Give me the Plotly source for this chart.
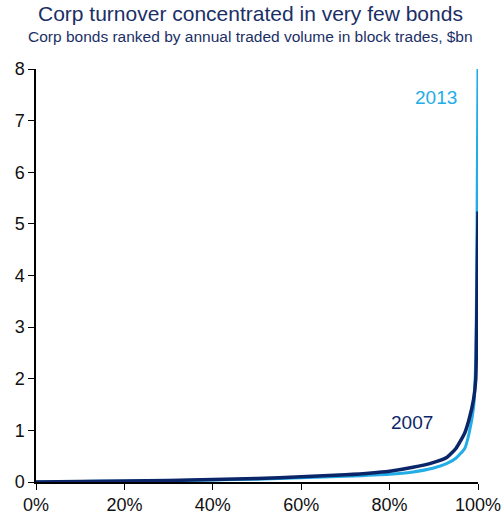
import plotly.graph_objects as go

pct = [0, 10, 20, 30, 40, 50, 60, 70, 80, 85, 90, 93, 95, 97, 98, 99, 99.5, 99.7, 99.85, 100]
vol_2007 = [0.0, 0.01, 0.02, 0.03, 0.05, 0.07, 0.10, 0.14, 0.21, 0.28, 0.38, 0.48, 0.65, 0.95, 1.22, 1.6, 2.0, 3.0, 4.2, 5.24]
vol_2013 = [0.0, 0.01, 0.015, 0.025, 0.04, 0.055, 0.08, 0.11, 0.15, 0.19, 0.27, 0.36, 0.46, 0.65, 0.95, 1.45, 2.4, 4.0, 6.0, 8.0]
x_ticks = [0, 20, 40, 60, 80, 100]
y_ticks = [0, 1, 2, 3, 4, 5, 6, 7, 8]

light = "#22ADE6"
dark = "#0B2668"
title_col = "#1B2F66"

fig = go.Figure()
fig.add_trace(go.Scatter(x=pct, y=vol_2013, mode="lines",
                         line=dict(color=light, width=3, shape="spline", smoothing=0.5), name="2013"))
fig.add_trace(go.Scatter(x=pct, y=vol_2007, mode="lines",
                         line=dict(color=dark, width=3.5, shape="spline", smoothing=0.5), name="2007"))

fig.add_annotation(x=90.6, y=7.45, text="2013", showarrow=False, font=dict(size=19, color=light))
fig.add_annotation(x=85, y=1.16, text="2007", showarrow=False, font=dict(size=19, color=dark))

fig.add_annotation(xref="paper", yref="paper", x=0.485, y=1.0, xanchor="center", yanchor="bottom",
                   yshift=42, text="Corp turnover concentrated in very few bonds", showarrow=False,
                   font=dict(size=21, color=title_col))
fig.add_annotation(xref="paper", yref="paper", x=0.485, y=1.0, xanchor="center", yanchor="bottom",
                   yshift=22, text="Corp bonds ranked by annual traded volume in block trades, $bn",
                   showarrow=False, font=dict(size=15.5, color=title_col))

fig.update_layout(
    width=503, height=522,
    margin=dict(l=36, r=25, t=69, b=40, autoexpand=False),
    paper_bgcolor="white", plot_bgcolor="white",
    showlegend=False,
    font=dict(family="Liberation Sans, Arial, sans-serif", color="#111111"),
)
fig.update_xaxes(range=[0, 100], tickvals=x_ticks, ticktext=[f"{v}%" for v in x_ticks],
                 showline=True, linecolor="black", linewidth=1.5, ticks="outside", ticklen=6,
                 tickcolor="black", showgrid=False, zeroline=False, tickfont=dict(size=18),
                 automargin=False)
fig.update_yaxes(range=[0, 8], tickvals=y_ticks, showline=True, linecolor="black", linewidth=1.5,
                 ticks="outside", ticklen=6, tickcolor="black", showgrid=False, zeroline=False,
                 tickfont=dict(size=18), automargin=False)

fig.write_html("out.html")
